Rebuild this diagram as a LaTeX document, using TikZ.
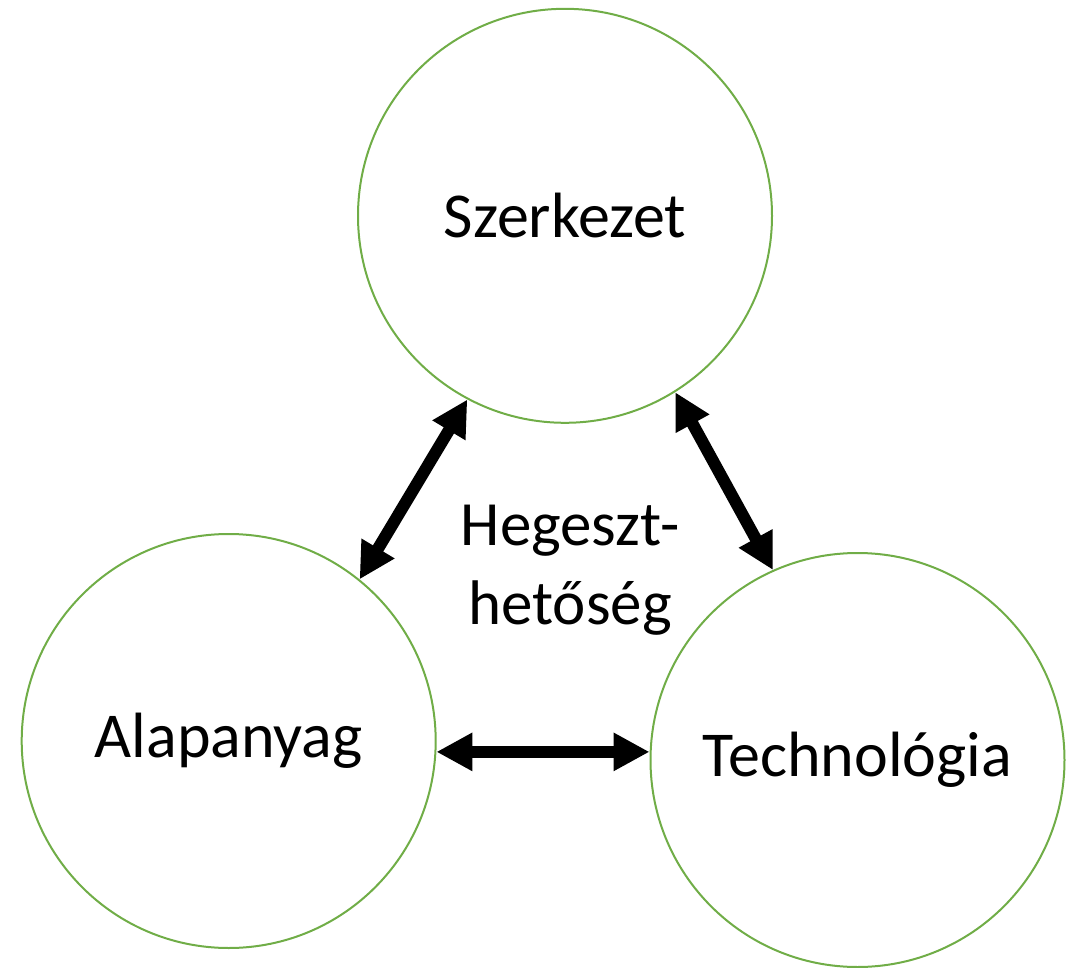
\documentclass[tikz,border=0pt]{standalone}
\usepackage{fontspec}
\setmainfont{Carlito}
\usetikzlibrary{arrows.meta}
\definecolor{offgreen}{HTML}{70AD47}
\tikzset{
  ring/.style={circle, draw=offgreen, line width=2pt, minimum size=414pt, inner sep=0pt,
    font=\fontsize{64}{77}\selectfont},
  link/.style={line width=12pt, {Triangle[length=36pt,width=36pt]}-{Triangle[length=36pt,width=36pt]}}
}
\begin{document}
\begin{tikzpicture}[x=1pt,y=-1pt]
\useasboundingbox (0,0) rectangle (1071,968);
\node[ring] (sz) at (565,215.8) {Szerkezet};
\node[ring] (al) at (228.7,741) {Alapanyag};
\node[ring] (te) at (857.5,760) {Technológia};
\node[font=\fontsize{63}{79}\selectfont, align=center] (he) at (570,570) {Hegeszt-\\hetőség};
\draw[link] (al.51) -- (sz.242.7);
\draw[link] (sz.-58.5) -- (te.114);
\draw[link] (al.-3) -- (al.-3 -| te.west);
\end{tikzpicture}
\end{document}
